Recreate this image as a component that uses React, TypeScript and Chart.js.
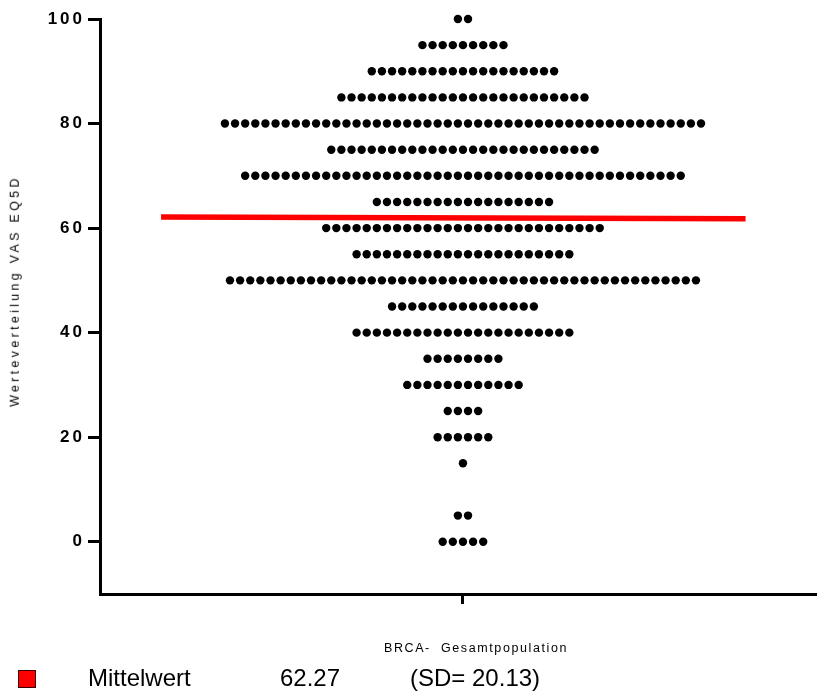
import React, { useEffect, useRef } from 'react';
import { Chart, registerables } from 'chart.js';

Chart.register(...registerables);

// VAS values (rows) and how many patients sit on each row
const rowValues = [100, 95, 90, 85, 80, 75, 70, 65, 60, 55, 50, 45, 40, 35, 30, 25, 20, 15, 5, 0];
const rowCounts = [2, 9, 19, 25, 48, 27, 44, 18, 28, 22, 47, 15, 22, 8, 12, 4, 6, 1, 2, 5];
const yTickValues = [0, 20, 40, 60, 80, 100];
const categoryLabel = 'BRCA-  Gesamtpopulation';
const yAxisTitle = 'Werteverteilung VAS EQ5D';
const meanLabel = 'Mittelwert';
const meanValue = 62.27;
const sdValue = 20.13;
const meanLineX = [-29.8, 27.9];
const meanLineY = [62.1, 61.8];

const fontFamily = '"Liberation Sans", Arial, sans-serif';

export default function App() {
  const canvasRef = useRef<HTMLCanvasElement | null>(null);

  useEffect(() => {
    const canvas = canvasRef.current;
    if (!canvas) return;

    const points: { x: number; y: number }[] = [];
    rowValues.forEach((v, r) => {
      const n = rowCounts[r];
      for (let i = 0; i < n; i++) {
        points.push({ x: i - (n - 1) / 2, y: v });
      }
    });

    const spacingPlugin = {
      id: 'tickSpacing',
      beforeDraw(chart: any) {
        chart.ctx.letterSpacing = '3px';
      },
      beforeDatasetsDraw(chart: any) {
        chart.ctx.letterSpacing = '0px';
      },
    };

    const chart = new Chart(canvas, {
      type: 'scatter',
      data: {
        datasets: [
          {
            label: 'Werte',
            data: points,
            backgroundColor: '#000000',
            borderWidth: 0,
            pointRadius: 4.2,
            clip: false,
            order: 2,
          } as any,
          {
            label: meanLabel,
            data: [
              { x: meanLineX[0], y: meanLineY[0] },
              { x: meanLineX[1], y: meanLineY[1] },
            ],
            showLine: true,
            borderColor: '#ff0000',
            backgroundColor: '#ff0000',
            borderWidth: 5.5,
            pointRadius: 0,
            order: 1,
          } as any,
        ],
      },
      options: {
        responsive: false,
        animation: false,
        events: [],
        layout: { autoPadding: false, padding: { top: 19, left: 0, right: 0, bottom: 0 } },
        plugins: {
          legend: { display: false },
          tooltip: { enabled: false },
        },
        scales: {
          x: {
            type: 'linear',
            min: -35.83,
            max: 34.95,
            afterBuildTicks: (s: any) => {
              s.ticks = [{ value: 0 }];
            },
            afterFit: (s: any) => {
              s.height = 97;
            },
            ticks: { display: false },
            grid: {
              display: true,
              drawOnChartArea: false,
              drawTicks: true,
              tickLength: 10,
              tickWidth: 3,
              tickColor: '#000000',
              color: '#000000',
            },
            border: { display: true, color: '#000000', width: 3 },
          },
          y: {
            type: 'linear',
            min: -10,
            max: 100,
            afterBuildTicks: (s: any) => {
              s.ticks = yTickValues.map((v) => ({ value: v }));
            },
            afterFit: (s: any) => {
              s.width = 100;
            },
            ticks: {
              color: '#000000',
              padding: 3,
              font: { family: fontFamily, size: 17, weight: 'bold' },
            },
            grid: {
              display: true,
              drawOnChartArea: false,
              drawTicks: true,
              tickLength: 12,
              tickWidth: 3,
              tickColor: '#000000',
              color: '#000000',
            },
            border: { display: true, color: '#000000', width: 3 },
          },
        },
      },
      plugins: [spacingPlugin],
    });

    return () => {
      chart.destroy();
    };
  }, []);

  const textBase: React.CSSProperties = {
    position: 'absolute',
    fontFamily,
    color: '#000',
    whiteSpace: 'pre',
    lineHeight: 1,
  };

  return (
    <div
      style={{
        position: 'absolute',
        left: 0,
        top: 0,
        width: 817,
        height: 691,
        background: '#fff',
        overflow: 'hidden',
      }}
    >
      <canvas
        ref={canvasRef}
        width={817}
        height={691}
        style={{ display: 'block', width: 817, height: 691 }}
      />
      <div
        style={{
          ...textBase,
          left: 15,
          top: 291,
          fontSize: 12.5,
          letterSpacing: '3.3px',
          transform: 'translate(-50%, -50%) rotate(-90deg)',
        }}
      >
        {yAxisTitle}
      </div>
      <div
        style={{
          ...textBase,
          left: 476,
          top: 642,
          fontSize: 12.5,
          letterSpacing: '1.6px',
          transform: 'translateX(-50%)',
        }}
      >
        {categoryLabel}
      </div>
      <div
        style={{
          position: 'absolute',
          left: 18,
          top: 670,
          width: 16,
          height: 16,
          background: '#ff0000',
          border: '1.5px solid #3a0000',
        }}
      />
      <div style={{ ...textBase, left: 88, top: 666, fontSize: 24 }}>{meanLabel}</div>
      <div style={{ ...textBase, left: 280, top: 666, fontSize: 24 }}>{meanValue.toFixed(2)}</div>
      <div style={{ ...textBase, left: 410, top: 666, fontSize: 24 }}>{`(SD= ${sdValue.toFixed(2)})`}</div>
    </div>
  );
}
